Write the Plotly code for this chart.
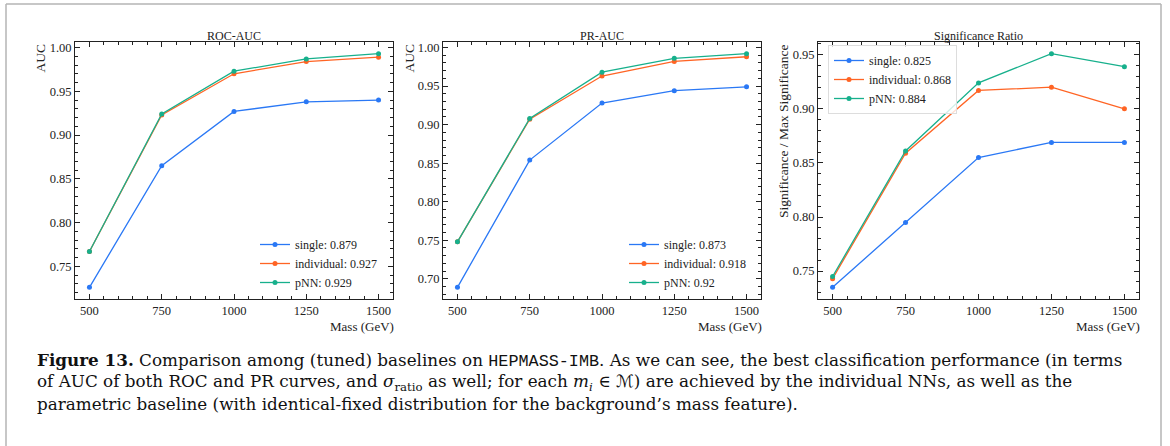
import plotly.graph_objects as go

# ---------------- data ----------------
mass = [500, 750, 1000, 1250, 1500]

roc_single = [0.726, 0.865, 0.927, 0.938, 0.940]
roc_individual = [0.767, 0.923, 0.970, 0.984, 0.989]
roc_pnn = [0.767, 0.924, 0.973, 0.987, 0.993]

pr_single = [0.689, 0.854, 0.928, 0.944, 0.949]
pr_individual = [0.748, 0.907, 0.963, 0.982, 0.988]
pr_pnn = [0.748, 0.908, 0.968, 0.986, 0.992]

sig_single = [0.735, 0.795, 0.855, 0.869, 0.869]
sig_individual = [0.743, 0.859, 0.917, 0.920, 0.900]
sig_pnn = [0.745, 0.861, 0.924, 0.951, 0.939]

roc_labels = ["single: 0.879", "individual: 0.927", "pNN: 0.929"]
pr_labels = ["single: 0.873", "individual: 0.918", "pNN: 0.92"]
sig_labels = ["single: 0.825", "individual: 0.868", "pNN: 0.884"]

panel_titles = ["ROC-AUC", "PR-AUC", "Significance Ratio"]
y_titles = ["AUC", "AUC", "Significance / Max Significance"]
x_title = "Mass (GeV)"
x_ticks = [500, 750, 1000, 1250, 1500]

caption_lines = [
    "<b>Figure 13.</b> Comparison among (tuned) baselines on "
    "<span style=\"font-family:'Liberation Mono'\">HEPMASS-IMB</span>. "
    "As we can see, the best classification performance (in terms",
    "of AUC of both ROC and PR curves, and <i>σ</i><sub>ratio</sub> as well; "
    "for each <i>m<sub>i</sub></i> ∈ "
    "<span style=\"font-family:'DejaVu Sans'\">ℳ</span>) "
    "are achieved by the individual NNs, as well as the",
    "parametric baseline (with identical-fixed distribution for the background’s mass feature).",
]

colors = ["#2a78f5", "#ff6424", "#17b08c"]
SERIF = "Liberation Serif"
CAP_FONT = "DejaVu Serif"

W, H = 1170, 446


def px(x):
    return x / W


def py(y):
    return 1 - y / H


panels = [
    dict(x0=75, x1=393, series=[roc_single, roc_individual, roc_pnn], labels=roc_labels),
    dict(x0=443, x1=761, series=[pr_single, pr_individual, pr_pnn], labels=pr_labels),
    dict(x0=818, x1=1139, series=[sig_single, sig_individual, sig_pnn], labels=sig_labels),
]
Y0, Y1 = 42, 299

fig = go.Figure()

legend_names = ["legend", "legend2", "legend3"]
for i, p in enumerate(panels):
    xa = "x" if i == 0 else f"x{i+1}"
    ya = "y" if i == 0 else f"y{i+1}"
    for s, lab, c in zip(p["series"], p["labels"], colors):
        fig.add_trace(go.Scatter(
            x=mass, y=s, mode="lines+markers", name=lab,
            line=dict(color=c, width=1.3),
            marker=dict(color=c, size=5),
            xaxis=xa, yaxis=ya, legend=legend_names[i],
        ))

axis_common = dict(
    showline=True, linecolor="#222", linewidth=1, mirror="allticks",
    ticks="inside", ticklen=5, tickwidth=1, tickcolor="#222",
    showgrid=False, zeroline=False,
    tickfont=dict(family=SERIF, size=12.5, color="#222"),
)

layout = dict(
    width=W, height=H, autosize=False,
    margin=dict(l=0, r=0, t=0, b=0),
    paper_bgcolor="white", plot_bgcolor="white",
)

for i, p in enumerate(panels):
    allv = [v for s in p["series"] for v in s]
    lo, hi = min(allv), max(allv)
    pad = (hi - lo) * 0.05
    xk = "xaxis" if i == 0 else f"xaxis{i+1}"
    yk = "yaxis" if i == 0 else f"yaxis{i+1}"
    xa = "x" if i == 0 else f"x{i+1}"
    ya = "y" if i == 0 else f"y{i+1}"
    layout[xk] = dict(
        axis_common, domain=[px(p["x0"]), px(p["x1"])], anchor=ya,
        range=[450, 1550], tickvals=x_ticks,
        minor=dict(ticks="inside", ticklen=3, dtick=50, tick0=0, tickcolor="#222"),
    )
    layout[yk] = dict(
        axis_common, domain=[py(Y1), py(Y0)], anchor=xa,
        range=[lo - pad, hi + pad], dtick=0.05, tickformat=".2f",
        minor=dict(ticks="inside", ticklen=3, dtick=0.01, tick0=0, tickcolor="#222"),
    )

legend_common = dict(
    font=dict(family=SERIF, size=12, color="#222"),
    bgcolor="rgba(255,255,255,0)", borderwidth=0,
    itemclick=False, tracegroupgap=0,
)
layout["legend"] = dict(legend_common, x=px(255), y=py(230), xanchor="left", yanchor="top")
layout["legend2"] = dict(legend_common, x=px(624), y=py(230), xanchor="left", yanchor="top")
layout["legend3"] = dict(legend_common, x=px(828), y=py(45), xanchor="left", yanchor="top",
                         bordercolor="#dddddd", borderwidth=1,
                         bgcolor="rgba(255,255,255,0.8)")

fig.update_layout(**layout)

# panel titles, axis titles
for i, p in enumerate(panels):
    cx = (p["x0"] + p["x1"]) / 2
    fig.add_annotation(x=px(cx), y=py(36), xref="paper", yref="paper",
                       text=panel_titles[i], showarrow=False,
                       font=dict(family=SERIF, size=12, color="#222"),
                       xanchor="center", yanchor="middle")
    fig.add_annotation(x=px(p["x1"] + 3), y=py(317), xref="paper", yref="paper",
                       text=x_title, showarrow=False,
                       font=dict(family=SERIF, size=13, color="#222"),
                       xanchor="right", yanchor="top")

ylab_x = [40, 409, 783]
for i, p in enumerate(panels):
    fig.add_annotation(x=px(ylab_x[i]), y=py(Y0), xref="paper", yref="paper",
                       text=y_titles[i], showarrow=False, textangle=-90,
                       font=dict(family=SERIF, size=13.5, color="#222"),
                       xanchor="center", yanchor="top")

# caption
cap_centers = [360, 382, 404]
for t, cy in zip(caption_lines, cap_centers):
    fig.add_annotation(x=px(35), y=py(cy), xref="paper", yref="paper",
                       text=t, showarrow=False, align="left",
                       font=dict(family=CAP_FONT, size=16.8, color="#111"),
                       xanchor="left", yanchor="middle")

# outer frame (left, top, right edges)
frame = dict(color="#b4b4b4", width=1.5)
fig.add_shape(type="line", xref="paper", yref="paper",
              x0=px(6), x1=px(6), y0=0, y1=py(4), line=frame)
fig.add_shape(type="line", xref="paper", yref="paper",
              x0=px(6), x1=px(1161), y0=py(4), y1=py(4), line=frame)
fig.add_shape(type="line", xref="paper", yref="paper",
              x0=px(1161), x1=px(1161), y0=0, y1=py(4), line=frame)

fig.write_html("out.html")
